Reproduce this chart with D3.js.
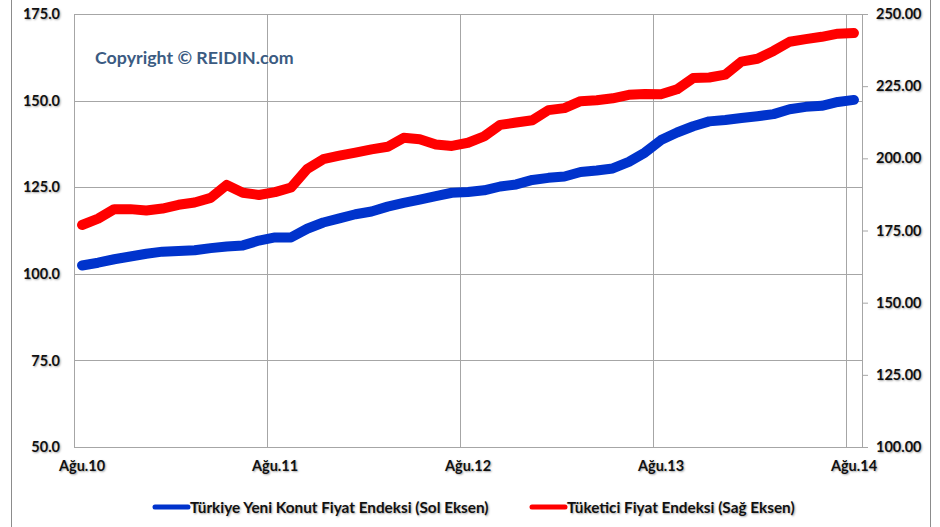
<!DOCTYPE html>
<html>
<head>
  <meta charset="utf-8">
  <title>Konut Fiyat Endeksi ve TÜFE</title>
  <script src="https://d3js.org/d3.v7.min.js"></script>
  <style>
    body { margin: 0; background: #fff; }
    text { font-family: Lato, "Open Sans", sans-serif; font-weight: bold; }
    .lbl { fill: #111; text-shadow: 1px 1px 2px rgba(0,0,0,0.35); }
  </style>
</head>
<body>
  <div id="chart"></div>

  <script>
    // Aylar (Ağustos 2010 - Ağustos 2014)
    var months = [
      'Ağu.10', 'Eyl.10', 'Eki.10', 'Kas.10', 'Ara.10',
      'Oca.11', 'Şub.11', 'Mar.11', 'Nis.11', 'May.11', 'Haz.11', 'Tem.11',
      'Ağu.11', 'Eyl.11', 'Eki.11', 'Kas.11', 'Ara.11',
      'Oca.12', 'Şub.12', 'Mar.12', 'Nis.12', 'May.12', 'Haz.12', 'Tem.12',
      'Ağu.12', 'Eyl.12', 'Eki.12', 'Kas.12', 'Ara.12',
      'Oca.13', 'Şub.13', 'Mar.13', 'Nis.13', 'May.13', 'Haz.13', 'Tem.13',
      'Ağu.13', 'Eyl.13', 'Eki.13', 'Kas.13', 'Ara.13',
      'Oca.14', 'Şub.14', 'Mar.14', 'Nis.14', 'May.14', 'Haz.14', 'Tem.14',
      'Ağu.14'
    ];

    // Türkiye Yeni Konut Fiyat Endeksi (sol eksen)
    var konut = [
      102.4, 103.2, 104.2, 105.0, 105.8,
      106.4, 106.6, 106.8, 107.4, 107.9, 108.2, 109.6,
      110.5, 110.5, 113.0, 114.8, 116.0,
      117.2, 118.0, 119.4, 120.5, 121.4, 122.4, 123.4,
      123.6, 124.1, 125.2, 125.8, 127.1,
      127.7, 128.1, 129.4, 129.8, 130.4, 132.3, 135.0,
      138.6, 140.8, 142.6, 144.0, 144.4,
      145.0, 145.5, 146.1, 147.5, 148.2, 148.5, 149.6,
      150.2
    ];

    // Tüketici Fiyat Endeksi (sağ eksen)
    var tufe = [
      176.9, 179.1, 182.4, 182.4, 181.9,
      182.6, 183.9, 184.7, 186.3, 190.8, 188.1, 187.3,
      188.3, 189.9, 196.3, 199.7, 200.9,
      202.0, 203.1, 204.0, 207.1, 206.6, 204.8, 204.3,
      205.4, 207.6, 211.6, 212.4, 213.2,
      216.7, 217.4, 219.8, 220.1, 220.8, 222.0, 222.3,
      222.2, 223.9, 227.8, 228.0, 229.0,
      233.5, 234.5, 237.2, 240.4, 241.3, 242.1, 243.2,
      243.4
    ];

    // Eksen etiketleri
    var xTicks = ['Ağu.10', 'Ağu.11', 'Ağu.12', 'Ağu.13', 'Ağu.14'];
    var leftTicks = [50, 75, 100, 125, 150, 175];
    var rightTicks = [100, 125, 150, 175, 200, 225, 250];

    var seriesNames = ['Türkiye Yeni Konut Fiyat Endeksi (Sol Eksen)', 'Tüketici Fiyat Endeksi (Sağ Eksen)'];
    var colors = ['#0033cc', '#ff0000'];

    var width = 940, height = 527;
    var margin = { top: 14, right: 78, bottom: 80, left: 74 };
    var w = width - margin.left - margin.right;
    var h = height - margin.top - margin.bottom;

    var svg = d3.select('#chart')
      .append('svg')
        .attr('width', width)
        .attr('height', height);

    // Çerçeve (sol ve sağ kenar)
    svg.append('line')
      .attr('x1', 11.5).attr('x2', 11.5).attr('y1', 0).attr('y2', height)
      .attr('stroke', '#8c8c8c');
    svg.append('line')
      .attr('x1', 930.5).attr('x2', 930.5).attr('y1', 0).attr('y2', height)
      .attr('stroke', '#8c8c8c');

    var g = svg.append('g')
      .attr('transform', 'translate(' + margin.left + ',' + margin.top + ')');

    var x = d3.scaleBand().domain(months).range([0, w]);
    var yLeft = d3.scaleLinear().domain([50, 175]).range([h, 0]);
    var yRight = d3.scaleLinear().domain([100, 250]).range([h, 0]);

    // Yatay kılavuz çizgileri
    g.selectAll('.hgrid')
        .data(leftTicks)
        .enter()
      .append('line')
        .attr('x1', 0).attr('x2', w)
        .attr('y1', function (d) { return Math.round(yLeft(d)) + 0.5; })
        .attr('y2', function (d) { return Math.round(yLeft(d)) + 0.5; })
        .attr('stroke', '#a6a6a6');

    // Dikey kılavuz çizgileri
    g.selectAll('.vgrid')
        .data(xTicks)
        .enter()
      .append('line')
        .attr('x1', function (d) { return Math.round(x(d)) + 0.5; })
        .attr('x2', function (d) { return Math.round(x(d)) + 0.5; })
        .attr('y1', 0).attr('y2', h)
        .attr('stroke', '#a6a6a6');

    // Sol eksen
    var left = g.append('g')
      .call(d3.axisLeft(yLeft).tickValues(leftTicks).tickFormat(d3.format('.1f')).tickSize(0).tickPadding(14));
    left.select('.domain').attr('stroke', '#a6a6a6');

    // Sağ eksen
    var right = g.append('g')
      .attr('transform', 'translate(' + w + ',0)')
      .call(d3.axisRight(yRight).tickValues(rightTicks).tickFormat(d3.format('.2f')).tickSize(6).tickPadding(8));
    right.selectAll('.domain, line').attr('stroke', '#a6a6a6');

    // Alt eksen
    var bottom = g.append('g')
      .attr('transform', 'translate(0,' + h + ')')
      .call(d3.axisBottom(x).tickValues(xTicks).tickSize(0).tickPadding(14));
    bottom.select('.domain').remove();

    g.selectAll('.tick text')
      .attr('class', 'lbl')
      .style('font-size', '14.5px')
      .attr('font-family', null);

    // Çizgiler
    var lineKonut = d3.line()
      .x(function (d, i) { return x(months[i]) + x.bandwidth() / 2; })
      .y(function (d) { return yLeft(d); });
    var lineTufe = d3.line()
      .x(function (d, i) { return x(months[i]) + x.bandwidth() / 2; })
      .y(function (d) { return yRight(d); });

    [[konut, lineKonut], [tufe, lineTufe]].forEach(function (s, k) {
      g.append('path')
        .datum(s[0])
        .attr('d', s[1])
        .attr('fill', 'none')
        .attr('stroke', colors[k])
        .attr('stroke-width', 10)
        .attr('stroke-linejoin', 'round')
        .attr('stroke-linecap', 'round');
    });

    // Telif yazısı
    svg.append('text')
      .attr('x', 95)
      .attr('y', 64)
      .attr('fill', '#3b5b82')
      .style('font-size', '17.8px')
      .text('Copyright © REIDIN.com');

    // Açıklama
    var legendX = [153, 530];
    seriesNames.forEach(function (name, k) {
      svg.append('line')
        .attr('x1', legendX[k] + 2).attr('x2', legendX[k] + 35)
        .attr('y1', 507).attr('y2', 507)
        .attr('stroke', colors[k])
        .attr('stroke-width', 5)
        .attr('stroke-linecap', 'round');
      svg.append('text')
        .attr('class', 'lbl')
        .attr('x', legendX[k] + 37)
        .attr('y', 513)
        .style('font-size', '15.3px')
        .text(name);
    });
  </script>
</body>
</html>
